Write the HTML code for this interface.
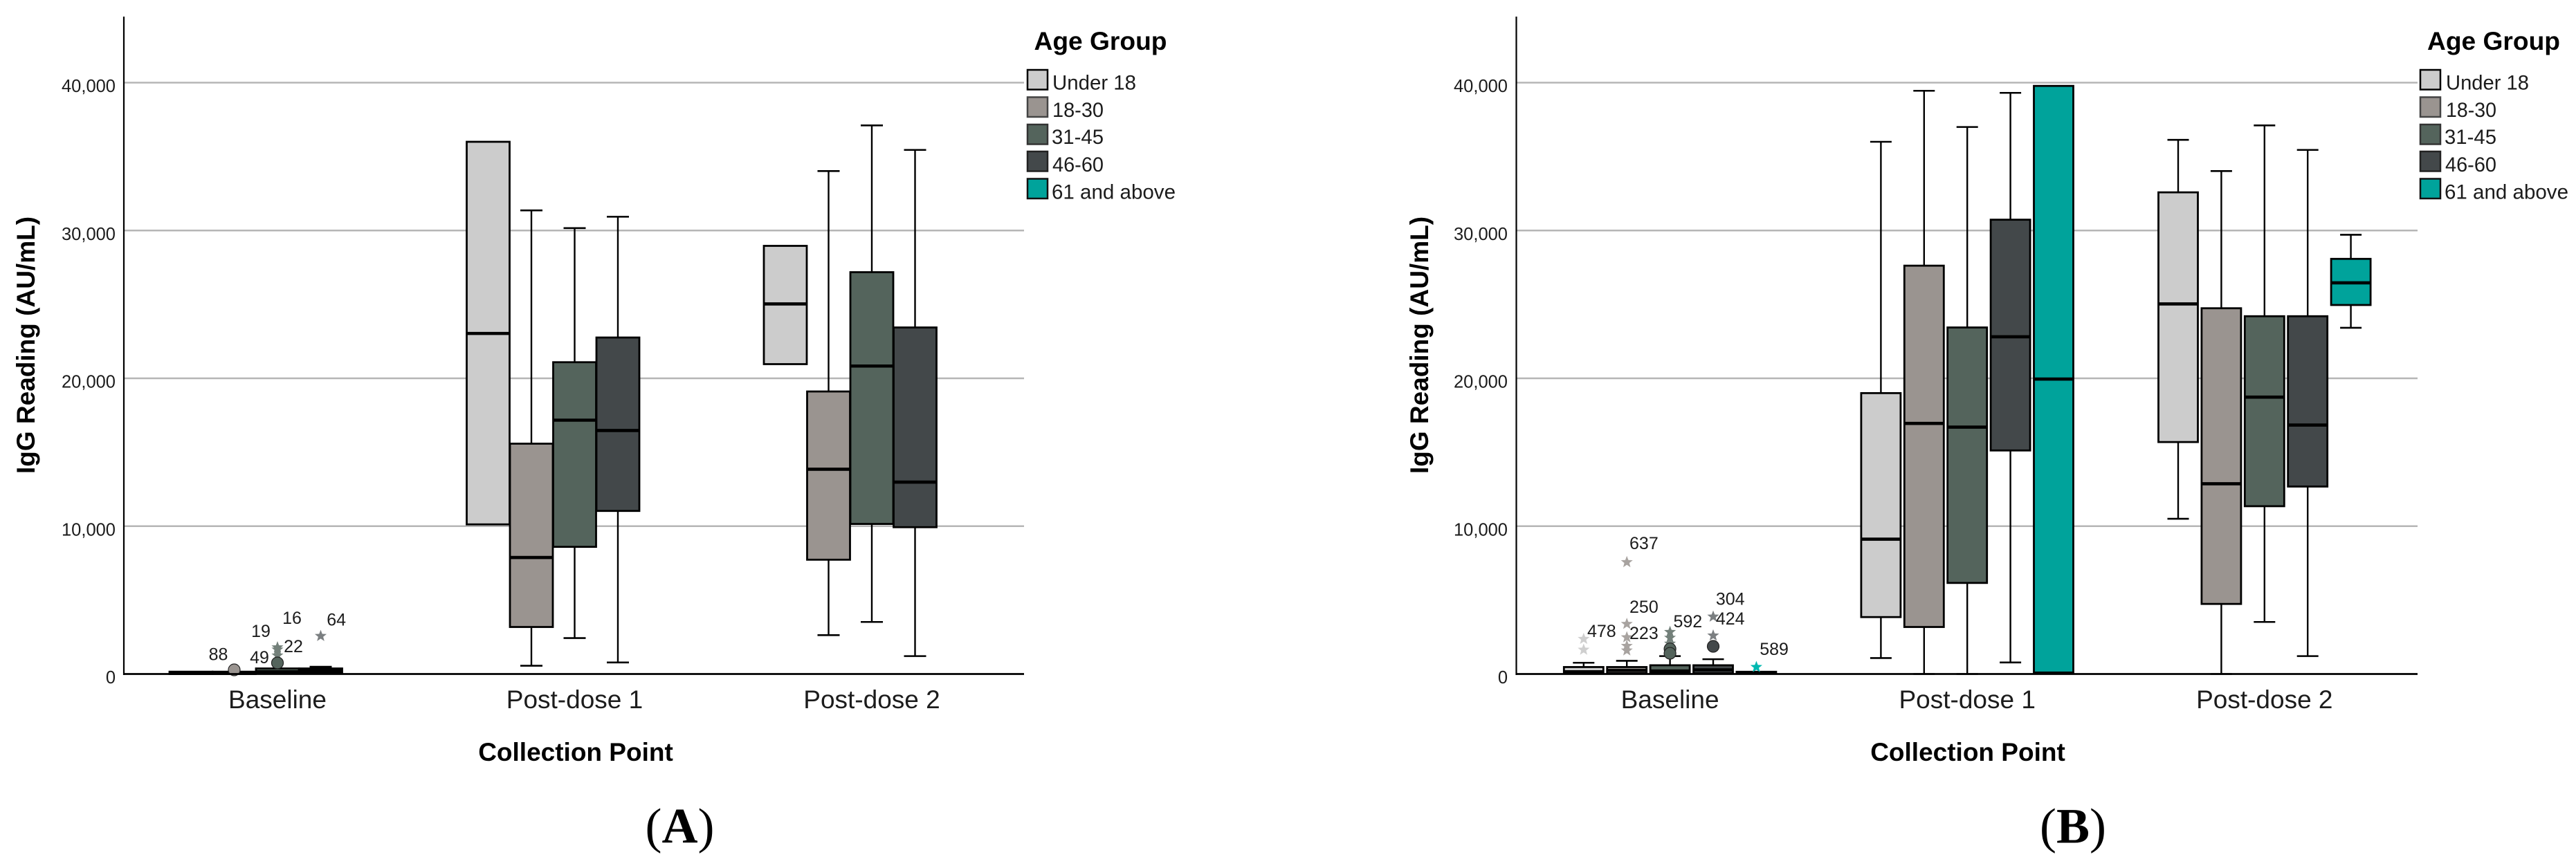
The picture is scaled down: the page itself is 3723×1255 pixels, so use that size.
<!DOCTYPE html>
<html lang="en">
<head>
<meta charset="utf-8">
<title>IgG Reading by Collection Point and Age Group</title>
<style>
html,body{margin:0;padding:0;background:#fff;}
body{width:3723px;height:1255px;overflow:hidden;}
svg{display:block;}
text{font-family:"Liberation Sans",Arial,sans-serif;fill:#1c1c1c;}
.cat{font-size:37px;text-anchor:middle;}
.tick{font-size:25.5px;text-anchor:end;}
.axt{font-size:37px;font-weight:bold;text-anchor:middle;fill:#000;}
.legt{font-size:37px;font-weight:bold;fill:#000;}
.leg{font-size:29.5px;}
.lab{font-size:25px;text-anchor:middle;}
.cap{font-family:"Liberation Serif","Times New Roman",serif;font-size:72px;text-anchor:middle;fill:#000;}
</style>
</head>
<body>
<svg id="chart" xmlns="http://www.w3.org/2000/svg" width="3723" height="1255" viewBox="0 0 3723 1255">
  <rect x="0" y="0" width="3723" height="1255" fill="#ffffff"/>
  <g id="panelA">
    <g id="plotA"></g>
    <text class="axt" transform="translate(50,499) rotate(-90)">IgG Reading (AU/mL)</text>
    <text class="axt" x="832" y="1100">Collection Point</text>
    <g>
      <text class="legt" x="1494.5" y="72" textLength="192" lengthAdjust="spacingAndGlyphs">Age Group</text>
      <rect x="1485" y="101" width="29" height="28.5" fill="#cccccc" stroke="#000" stroke-width="2.5"/>
      <rect x="1485" y="140.5" width="29" height="28.5" fill="#9a9490" stroke="#444" stroke-width="2.5"/>
      <rect x="1485" y="180" width="29" height="28.5" fill="#54645c" stroke="#333" stroke-width="2.5"/>
      <rect x="1485" y="219" width="29" height="28.5" fill="#43484a" stroke="#222" stroke-width="2.5"/>
      <rect x="1485" y="258.5" width="29" height="28.5" fill="#00a39b" stroke="#111" stroke-width="2.5"/>
      <text class="leg" x="1521" y="129.5" textLength="121" lengthAdjust="spacingAndGlyphs">Under 18</text>
      <text class="leg" x="1521" y="169" textLength="74" lengthAdjust="spacingAndGlyphs">18-30</text>
      <text class="leg" x="1520" y="208" textLength="75" lengthAdjust="spacingAndGlyphs">31-45</text>
      <text class="leg" x="1521" y="248" textLength="74" lengthAdjust="spacingAndGlyphs">46-60</text>
      <text class="leg" x="1520" y="287.5" textLength="179" lengthAdjust="spacingAndGlyphs">61 and above</text>
    </g>
    <text class="cap" x="982.5" y="1218.5">(<tspan font-weight="bold" style="fill:#000">A</tspan>)</text>
  </g>
  <g id="panelB">
    <g id="plotB"></g>
    <text class="axt" transform="translate(2064,499) rotate(-90)">IgG Reading (AU/mL)</text>
    <text class="axt" x="2844" y="1100">Collection Point</text>
    <g>
      <text class="legt" x="3508" y="72" textLength="192" lengthAdjust="spacingAndGlyphs">Age Group</text>
      <rect x="3498" y="101" width="29" height="28.5" fill="#cccccc" stroke="#000" stroke-width="2.5"/>
      <rect x="3498" y="140.5" width="29" height="28.5" fill="#9a9490" stroke="#444" stroke-width="2.5"/>
      <rect x="3498" y="180" width="29" height="28.5" fill="#54645c" stroke="#333" stroke-width="2.5"/>
      <rect x="3498" y="219" width="29" height="28.5" fill="#43484a" stroke="#222" stroke-width="2.5"/>
      <rect x="3498" y="258.5" width="29" height="28.5" fill="#00a39b" stroke="#111" stroke-width="2.5"/>
      <text class="leg" x="3535" y="129.5" textLength="120" lengthAdjust="spacingAndGlyphs">Under 18</text>
      <text class="leg" x="3535" y="169" textLength="73" lengthAdjust="spacingAndGlyphs">18-30</text>
      <text class="leg" x="3533" y="208" textLength="75" lengthAdjust="spacingAndGlyphs">31-45</text>
      <text class="leg" x="3534" y="248" textLength="74" lengthAdjust="spacingAndGlyphs">46-60</text>
      <text class="leg" x="3533" y="287.5" textLength="179" lengthAdjust="spacingAndGlyphs">61 and above</text>
    </g>
    <text class="cap" x="2996" y="1218.5">(<tspan font-weight="bold" style="fill:#000">B</tspan>)</text>
  </g>
</svg>
<script>
const categories = ['Baseline', 'Post-dose 1', 'Post-dose 2'];
const ageGroups = ['Under 18', '18-30', '31-45', '46-60', '61 and above'];
const tickValues = [0, 10000, 20000, 30000, 40000];
const tickLabels = ['0', '10,000', '20,000', '30,000', '40,000'];

// Each inner array: one age group, values for [Baseline, Post-dose 1, Post-dose 2]
const aWhiskerHigh = [[null, null, null], [null, 31360, 34020], [null, 30160, 37110], [490, 30930, 35450], [null, null, null]];
const aQ3 = [[155, 36000, 28960], [155, 15580, 19110], [374, 21090, 27180], [374, 22760, 23440], [null, null, null]];
const aMedian = [[50, 23035, 25030], [60, 7880, 13850], [150, 17170, 20830], [200, 16470, 12980], [null, null, null]];
const aQ1 = [[0, 10120, 20960], [0, 3180, 7730], [30, 8600, 10150], [30, 11030, 9930], [null, null, null]];
const aWhiskerLow = [[null, null, null], [null, 560, 2630], [null, 2430, 3520], [null, 780, 1210], [null, null, null]];
const aOutliers = [
  {cat: 0, group: 1, value: 280, marker: 'circle', label: '88'},
  {cat: 0, group: 2, value: 1800, marker: 'star', label: '16'},
  {cat: 0, group: 2, value: 1650, marker: 'star', label: '19'},
  {cat: 0, group: 2, value: 1250, marker: 'star', label: '22'},
  {cat: 0, group: 2, value: 750, marker: 'circle', label: '49'},
  {cat: 0, group: 3, value: 2570, marker: 'star', label: '64'}
];

const bWhiskerHigh = [[760, 36000, 36130], [890, 39450, 34020], [1210, 37000, 37110], [1000, 39310, 35450], [null, null, 29710]];
const bQ3 = [[470, 19000, 32580], [470, 27620, 24740], [590, 23440, 24200], [590, 30730, 24200], [150, 39780, 28080]];
const bMedian = [[150, 9120, 25030], [240, 16950, 12870], [200, 16700, 18730], [280, 22810, 16840], [60, 19950, 26460]];
const bQ1 = [[50, 3850, 15690], [50, 3180, 4740], [50, 6160, 11350], [50, 15120, 12680], [20, 100, 24960]];
const bWhiskerLow = [[null, 1080, 10500], [null, 0, 0], [null, 0, 3520], [null, 780, 1210], [null, null, 23420]];
const bOutliers = [
  {cat: 0, group: 0, value: 2370, marker: 'star', label: '478'},
  {cat: 0, group: 0, value: 1640, marker: 'star', label: ''},
  {cat: 0, group: 1, value: 7565, marker: 'star', label: '637'},
  {cat: 0, group: 1, value: 3385, marker: 'star', label: '250'},
  {cat: 0, group: 1, value: 2480, marker: 'star', label: '223'},
  {cat: 0, group: 1, value: 1900, marker: 'star', label: ''},
  {cat: 0, group: 1, value: 1590, marker: 'star', label: ''},
  {cat: 0, group: 2, value: 2840, marker: 'star', label: '592'},
  {cat: 0, group: 2, value: 2450, marker: 'star', label: ''},
  {cat: 0, group: 2, value: 2050, marker: 'star', label: ''},
  {cat: 0, group: 2, value: 1700, marker: 'circle', label: ''},
  {cat: 0, group: 2, value: 1400, marker: 'circle', label: ''},
  {cat: 0, group: 3, value: 3880, marker: 'star', label: '304'},
  {cat: 0, group: 3, value: 2600, marker: 'star', label: '424'},
  {cat: 0, group: 3, value: 1870, marker: 'circle', label: ''},
  {cat: 0, group: 4, value: 470, marker: 'star', label: '589'}
];

// Layout and style, separate from the data
const fills = ['#cccccc', '#9a9490', '#54645c', '#43484a', '#00a39b'];
const starFills = ['#cfcfcf', '#a8a3a0', '#73807a', '#7b7f81', '#00b8b0'];
const labelNudge = {
  '88': [-23, -23], '16': [21, -43], '19': [-24, -27], '22': [23, -14], '49': [-26, -8.5], '64': [22.7, -24],
  '478': [26, -12], '637': [24.7, -28], '250': [24.7, -25], '223': [24.7, -6.7], '592': [25.7, -15.6],
  '304': [24.7, -26], '424': [24.7, -25], '589': [25.7, -26.7]
};
const SVGNS = 'http://www.w3.org/2000/svg';

function yScale(v) { return 974.5 - v * 0.021375; }

function svgEl(tag, attrs, parent) {
  const el = document.createElementNS(SVGNS, tag);
  for (const k in attrs) el.setAttribute(k, attrs[k]);
  parent.appendChild(el);
  return el;
}

function starPoints(cx, cy, R) {
  const pts = [];
  for (let i = 0; i < 10; i++) {
    const r = i % 2 === 0 ? R : R * 0.42;
    const a = -Math.PI / 2 + i * Math.PI / 5;
    pts.push((cx + r * Math.cos(a)).toFixed(2) + ',' + (cy + r * Math.sin(a)).toFixed(2));
  }
  return pts.join(' ');
}

function drawPanel(cfg) {
  const root = document.getElementById(cfg.rootId);
  const xCenter = function (cat, group) {
    return cfg.firstCenter + cat * cfg.catStep + (group - 2) * cfg.groupStep;
  };

  tickValues.forEach(function (v, i) {
    if (v > 0) {
      const grid = svgEl('line', {x1: cfg.left, x2: cfg.right, y1: yScale(v), y2: yScale(v), stroke: '#b6b6b6', 'stroke-width': 2.6}, root);
      
      
    }
    const tick = svgEl('text', {class: 'tick', x: cfg.tickX, y: yScale(v) + 13.5}, root);
    tick.textContent = tickLabels[i];
    
    
  });

  ageGroups.forEach(function (groupName, g) {
    categories.forEach(function (catName, c) {
      const cx = xCenter(c, g);
      const hi = cfg.high[g][c], lo = cfg.low[g][c];
      const q3 = cfg.q3[g][c], med = cfg.med[g][c], q1 = cfg.q1[g][c];
      if (hi !== null && q3 !== null) {
        const stemHi = svgEl('line', {x1: cx, x2: cx, y1: yScale(hi), y2: yScale(q3), stroke: '#000', 'stroke-width': 2.4}, root);
        
        
        const capHi = svgEl('line', {x1: cx - cfg.capHalf, x2: cx + cfg.capHalf, y1: yScale(hi), y2: yScale(hi), stroke: '#000', 'stroke-width': 2.6}, root);
        
        
      }
      if (lo !== null && q1 !== null) {
        const stemLo = svgEl('line', {x1: cx, x2: cx, y1: yScale(q1), y2: yScale(lo), stroke: '#000', 'stroke-width': 2.4}, root);
        
        
        const capLo = svgEl('line', {x1: cx - cfg.capHalf, x2: cx + cfg.capHalf, y1: yScale(lo), y2: yScale(lo), stroke: '#000', 'stroke-width': 2.6}, root);
        
        
      }
      if (q3 !== null) {
        const box = svgEl('rect', {x: cx - cfg.boxWidth / 2, y: yScale(q3), width: cfg.boxWidth, height: yScale(q1) - yScale(q3), fill: fills[g], stroke: '#000', 'stroke-width': 2.8}, root);
        
        
        const medLine = svgEl('line', {x1: cx - cfg.boxWidth / 2, x2: cx + cfg.boxWidth / 2, y1: yScale(med), y2: yScale(med), stroke: '#000', 'stroke-width': 4.6}, root);
        
        
      }
    });
  });

  cfg.outliers.forEach(function (o) {
    const cx = xCenter(o.cat, o.group);
    const cy = yScale(o.value);
    if (o.marker === 'circle') {
      const dot = svgEl('circle', {cx: cx, cy: cy, r: 8.5, fill: fills[o.group], stroke: '#222', 'stroke-width': 1.2}, root);
      
      
    } else {
      const star = svgEl('polygon', {points: starPoints(cx, cy, 9), fill: starFills[o.group]}, root);
      
      
    }
    if (o.label) {
      const nudge = labelNudge[o.label];
      const lab = svgEl('text', {class: 'lab', x: cx + nudge[0], y: cy + nudge[1] + 9}, root);
      lab.textContent = o.label;
      
      
    }
  });

  const yAxis = svgEl('line', {x1: cfg.left, x2: cfg.left, y1: 24, y2: 976, stroke: '#000', 'stroke-width': 2.2}, root);
  
  
  const xAxis = svgEl('line', {x1: cfg.left - 1, x2: cfg.right, y1: 974.5, y2: 974.5, stroke: '#000', 'stroke-width': 2.8}, root);
  
  

  categories.forEach(function (catName, c) {
    const lab = svgEl('text', {class: 'cat', x: xCenter(c, 2), y: 1024}, root);
    lab.textContent = catName;
    
    
  });
}

drawPanel({
  rootId: 'plotA', prefix: 'panel-a', left: 179, right: 1480, tickX: 167,
  firstCenter: 401, catStep: 429.5, groupStep: 62.5, boxWidth: 62, capHalf: 16,
  high: aWhiskerHigh, q3: aQ3, med: aMedian, q1: aQ1, low: aWhiskerLow, outliers: aOutliers
});
drawPanel({
  rootId: 'plotB', prefix: 'panel-b', left: 2191.5, right: 3494, tickX: 2179,
  firstCenter: 2413.6, catStep: 429.6, groupStep: 62.4, boxWidth: 57, capHalf: 15.5,
  high: bWhiskerHigh, q3: bQ3, med: bMedian, q1: bQ1, low: bWhiskerLow, outliers: bOutliers
});
</script>
</body>
</html>
